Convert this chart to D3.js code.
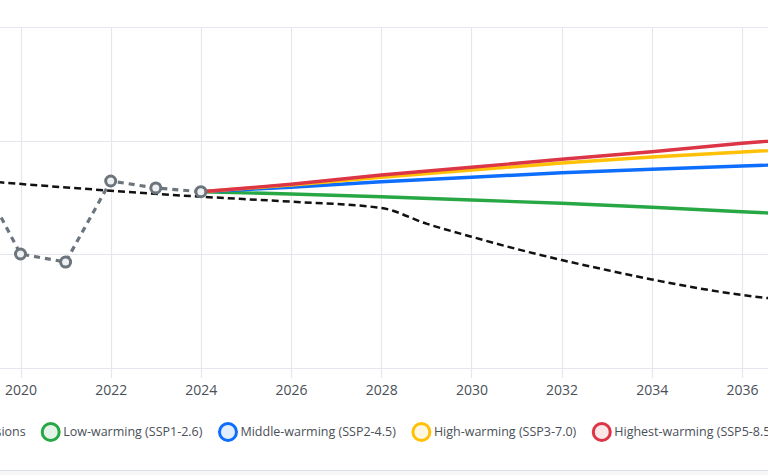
<!DOCTYPE html>
<html>
<head>
<meta charset="utf-8">
<script src="https://cdn.jsdelivr.net/npm/d3@7"></script>
<style>
  html, body { margin: 0; padding: 0; background: #ffffff; overflow: hidden; }
  svg { display: block; }
</style>
</head>
<body>
<svg id="chart" width="768" height="475"></svg>
<script>
// ---------- data ----------
const histYears   = [2019, 2020, 2021, 2022, 2023, 2024];
const histValues  = [17.51, 10.03, 9.32, 16.45, 15.84, 15.51];

const pathYears   = [2019, 2024, 2026, 2028, 2029, 2030, 2031, 2032, 2033, 2034, 2035, 2036, 2037];
const pathValues  = [16.50, 15.07, 14.63, 14.08, 12.70, 11.55, 10.47, 9.50, 8.62, 7.79, 7.04, 6.42, 5.98];

const scenYears   = [2024, 2026, 2028, 2030, 2032, 2034, 2036, 2038];
const lowWarming     = [15.51, 15.31, 15.07, 14.78, 14.49, 14.14, 13.75, 13.37];
const middleWarming  = [15.51, 15.90, 16.39, 16.78, 17.18, 17.48, 17.77, 18.04];
const highWarming    = [15.51, 16.10, 16.78, 17.42, 18.03, 18.56, 19.00, 19.44];
const highestWarming = [15.51, 16.16, 16.98, 17.66, 18.36, 19.03, 19.77, 20.41];

const xTicks = [2020, 2022, 2024, 2026, 2028, 2030, 2032, 2034, 2036];
const yTicks = [0, 10, 20, 30];

const legendLabels = ["Historical emissions", "Low-warming (SSP1-2.6)", "Middle-warming (SSP2-4.5)",
                      "High-warming (SSP3-7.0)", "Highest-warming (SSP5-8.5)"];

// ---------- layout ----------
const svg = d3.select("#chart");
const W = 768, H = 475;
const plotTop = 27, plotBottom = 368;
const pxPerYear = (742 - 20.5) / 16;
const x = d3.scaleLinear().domain([2015, 2040])
  .range([20.5 - 5 * pxPerYear, 20.5 + 20 * pxPerYear]);
const y = d3.scaleLinear().domain([0, 30]).range([plotBottom, plotTop]);

const gridColor = "#e6e6ef";
const textColor = "#4a4f57";
const fontFam = "'Open Sans', 'Noto Sans', sans-serif";

svg.append("rect").attr("width", W).attr("height", H).attr("fill", "#ffffff");

// grid
const grid = svg.append("g");
grid.selectAll("line.v").data(xTicks).join("line")
  .attr("x1", d => Math.round(x(d)) + 0.5).attr("x2", d => Math.round(x(d)) + 0.5)
  .attr("y1", plotTop).attr("y2", plotBottom + 10)
  .attr("stroke", gridColor).attr("stroke-width", 1.2);
grid.selectAll("line.h").data(yTicks).join("line")
  .attr("x1", x.range()[0]).attr("x2", x.range()[1])
  .attr("y1", d => Math.round(y(d)) + 0.5).attr("y2", d => Math.round(y(d)) + 0.5)
  .attr("stroke", gridColor).attr("stroke-width", 1.2);

// x axis labels via d3 axis
const xAxis = d3.axisBottom(x).tickValues(xTicks).tickFormat(d3.format("d")).tickSize(0).tickPadding(0);
const gx = svg.append("g").attr("transform", `translate(0, ${plotBottom + 17})`).call(xAxis);
gx.select(".domain").remove();
gx.selectAll("text").attr("font-family", fontFam).attr("font-size", 14)
  .attr("fill", textColor).attr("dy", "0.71em");

// lines
const line = d3.line().x(d => x(d[0])).y(d => y(d[1]));
const smooth = d3.line().x(d => x(d[0])).y(d => y(d[1])).curve(d3.curveMonotoneX);
const zip = (xs, ys) => xs.map((v, i) => [v, ys[i]]);

const plot = svg.append("g");
const scen = [
  { vals: lowWarming, color: "#28a745" },
  { vals: middleWarming, color: "#0d6efd" },
  { vals: highWarming, color: "#ffc107" },
  { vals: highestWarming, color: "#dc3545" }
];
// pathway (black dashed)
plot.append("path").datum(zip(pathYears, pathValues))
  .attr("d", smooth).attr("fill", "none").attr("stroke", "#111")
  .attr("stroke-width", 2.5).attr("stroke-dasharray", "7,4");

scen.forEach(s => {
  plot.append("path").datum(zip(scenYears, s.vals))
    .attr("d", line).attr("fill", "none").attr("stroke", s.color)
    .attr("stroke-width", 3.4).attr("stroke-linejoin", "round");
});

// historical
const hist = zip(histYears, histValues);
plot.append("path").datum(hist)
  .attr("d", line).attr("fill", "none").attr("stroke", "#6c757d")
  .attr("stroke-width", 3.2).attr("stroke-dasharray", "6,5");
plot.selectAll("circle.h").data(hist).join("circle")
  .attr("cx", d => x(d[0])).attr("cy", d => y(d[1])).attr("r", 5)
  .attr("fill", "#eef0f2").attr("stroke", "#6c757d").attr("stroke-width", 3);

// legend
const legendColors = ["#6c757d", "#28a745", "#0d6efd", "#ffc107", "#dc3545"];
const legY = 432;
const legFont = 12.5;
const leg = svg.append("g");
let cx = 50.7;
// first item: text ends 25px left of the first visible marker
const first = leg.append("text").attr("x", cx - 25).attr("y", legY).attr("dy", "0.35em")
  .attr("text-anchor", "end").attr("font-family", fontFam).attr("font-size", legFont)
  .attr("fill", textColor).text(legendLabels[0]);
const fw = first.node().getComputedTextLength();
leg.append("circle").attr("cx", cx - 25 - fw - 13).attr("cy", legY).attr("r", 8.5)
  .attr("fill", legendColors[0]).attr("fill-opacity", 0.12)
  .attr("stroke", legendColors[0]).attr("stroke-width", 3);
for (let i = 1; i < legendLabels.length; i++) {
  leg.append("circle").attr("cx", cx).attr("cy", legY).attr("r", 8.5)
    .attr("fill", legendColors[i]).attr("fill-opacity", 0.12)
    .attr("stroke", legendColors[i]).attr("stroke-width", 3);
  const t = leg.append("text").attr("x", cx + 12.5).attr("y", legY).attr("dy", "0.35em")
    .attr("font-family", fontFam).attr("font-size", legFont)
    .attr("fill", textColor).text(legendLabels[i]);
  cx = cx + 12.5 + t.node().getComputedTextLength() + 25.5;
}

// bottom border of the card
svg.append("rect").attr("x", 0).attr("y", 471).attr("width", W).attr("height", 4).attr("fill", "#f6f7f9");
svg.append("line").attr("x1", 0).attr("x2", W).attr("y1", 470.5).attr("y2", 470.5)
  .attr("stroke", "#dcdfe4").attr("stroke-width", 1);
</script>
</body>
</html>
